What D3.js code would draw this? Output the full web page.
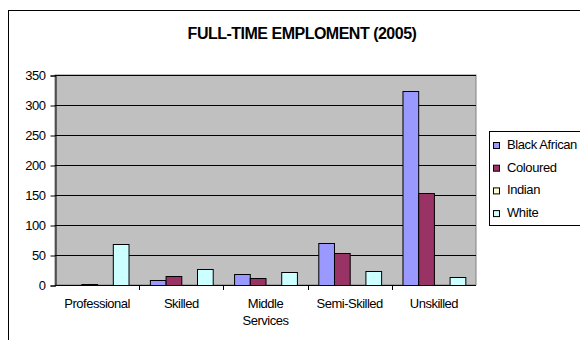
<!DOCTYPE html>
<html>
<head>
<meta charset="utf-8">
<script src="https://cdn.jsdelivr.net/npm/d3@7"></script>
<style>
  body { margin: 0; background: #fff; }
  text { font-family: "Liberation Sans", Arial, sans-serif; }
</style>
</head>
<body>
<script>
const categories = ["Professional", "Skilled", "Middle Services", "Semi-Skilled", "Unskilled"];
const series = ["Black African", "Coloured", "Indian", "White"];
const blackAfrican = [0, 9, 19, 70, 323];
const coloured = [2, 15, 12, 53, 153];
const indian = [0, 0, 0, 0, 0];
const white = [68, 27, 21, 23, 14];
const yTicks = [0, 50, 100, 150, 200, 250, 300, 350];
const colors = ["#9999ff", "#993366", "#ffffcc", "#ccffff"];

const values = [blackAfrican, coloured, indian, white];

const svg = d3.select("body").append("svg")
    .attr("width", 580)
    .attr("height", 340);

// outer chart frame
svg.append("rect")
    .attr("x", 8.5).attr("y", 10.5)
    .attr("width", 600).attr("height", 400)
    .attr("fill", "none").attr("stroke", "#000");

svg.append("text")
    .attr("x", 302).attr("y", 39)
    .attr("text-anchor", "middle")
    .attr("font-size", 16).attr("font-weight", "bold")
    .attr("letter-spacing", -0.5)
    .text("FULL-TIME EMPLOMENT (2005)");

const plotLeft = 55, plotRight = 476, plotTop = 75, plotBottom = 285;

const x = d3.scaleBand()
    .domain(categories)
    .range([plotLeft, plotRight]);

const xInner = d3.scaleBand()
    .domain(series)
    .range([0, x.bandwidth()])
    .paddingOuter(0.68);

const y = d3.scaleLinear()
    .domain([0, 350])
    .range([plotBottom, plotTop]);

svg.append("rect")
    .attr("x", plotLeft).attr("y", plotTop)
    .attr("width", plotRight - plotLeft).attr("height", plotBottom - plotTop)
    .attr("fill", "#c0c0c0")
    .attr("stroke", "#808080");

svg.append("g")
    .selectAll("line")
    .data(yTicks.slice(1))
    .enter().append("line")
    .attr("x1", plotLeft).attr("x2", plotRight)
    .attr("y1", d => Math.round(y(d)) + 0.5)
    .attr("y2", d => Math.round(y(d)) + 0.5)
    .attr("stroke", "#000");

const groups = svg.append("g")
    .selectAll("g")
    .data(categories)
    .enter().append("g")
    .attr("transform", d => `translate(${x(d)},0)`);

groups.selectAll("rect")
    .data((c, i) => series.map((s, j) => ({ s, j, v: values[j][i] })))
    .enter().append("rect")
    .filter(d => d.v > 0)
    .attr("x", d => xInner(d.s) + 0.5)
    .attr("y", d => Math.round(y(d.v)) + 0.5)
    .attr("width", xInner.bandwidth())
    .attr("height", d => plotBottom - Math.round(y(d.v)))
    .attr("fill", d => colors[d.j])
    .attr("stroke", "#000");

const yAxis = svg.append("g")
    .attr("transform", `translate(${plotLeft + 0.5},0.5)`)
    .call(d3.axisLeft(y).tickValues(yTicks).tickSize(5).tickPadding(5));
yAxis.selectAll("text").attr("font-size", 13).attr("fill", "#000")
    .attr("letter-spacing", -0.5)
    .style("font-family", "Liberation Sans, Arial, sans-serif");

const xAxis = svg.append("g")
    .attr("transform", `translate(0,${plotBottom + 0.5})`)
    .call(d3.axisBottom(x).tickSize(0).tickFormat(""));
xAxis.select(".domain").attr("d", `M${plotLeft},0H${plotRight}`);

svg.append("g")
    .selectAll("line")
    .data(categories.slice(1))
    .enter().append("line")
    .attr("x1", d => Math.round(x(d)) + 0.5).attr("x2", d => Math.round(x(d)) + 0.5)
    .attr("y1", plotBottom).attr("y2", plotBottom + 5)
    .attr("stroke", "#000");

const catLabels = svg.append("g")
    .selectAll("text")
    .data(categories)
    .enter().append("text")
    .attr("x", d => x(d) + x.bandwidth() / 2)
    .attr("y", 308)
    .attr("text-anchor", "middle")
    .attr("font-size", 13)
    .attr("letter-spacing", -0.5);
catLabels.each(function(d) {
    const words = d === "Middle Services" ? ["Middle", "Services"] : [d];
    words.forEach((w, k) => {
        d3.select(this).append("tspan")
            .attr("x", x(d) + x.bandwidth() / 2)
            .attr("dy", k === 0 ? 0 : 17)
            .text(w);
    });
});

// legend
const legend = svg.append("g");
legend.append("rect")
    .attr("x", 489.5).attr("y", 131.5)
    .attr("width", 120).attr("height", 94)
    .attr("fill", "#fff").attr("stroke", "#000");

const items = legend.selectAll("g")
    .data(series)
    .enter().append("g")
    .attr("transform", (d, i) => `translate(493,${149 + i * 22.7})`);
items.append("rect")
    .attr("x", 0.5).attr("y", -6.5)
    .attr("width", 6).attr("height", 6)
    .attr("fill", (d, i) => colors[i]).attr("stroke", "#000");
items.append("text")
    .attr("x", 14).attr("y", 0)
    .attr("font-size", 13)
    .attr("letter-spacing", -0.4)
    .text(d => d);
</script>
</body>
</html>
